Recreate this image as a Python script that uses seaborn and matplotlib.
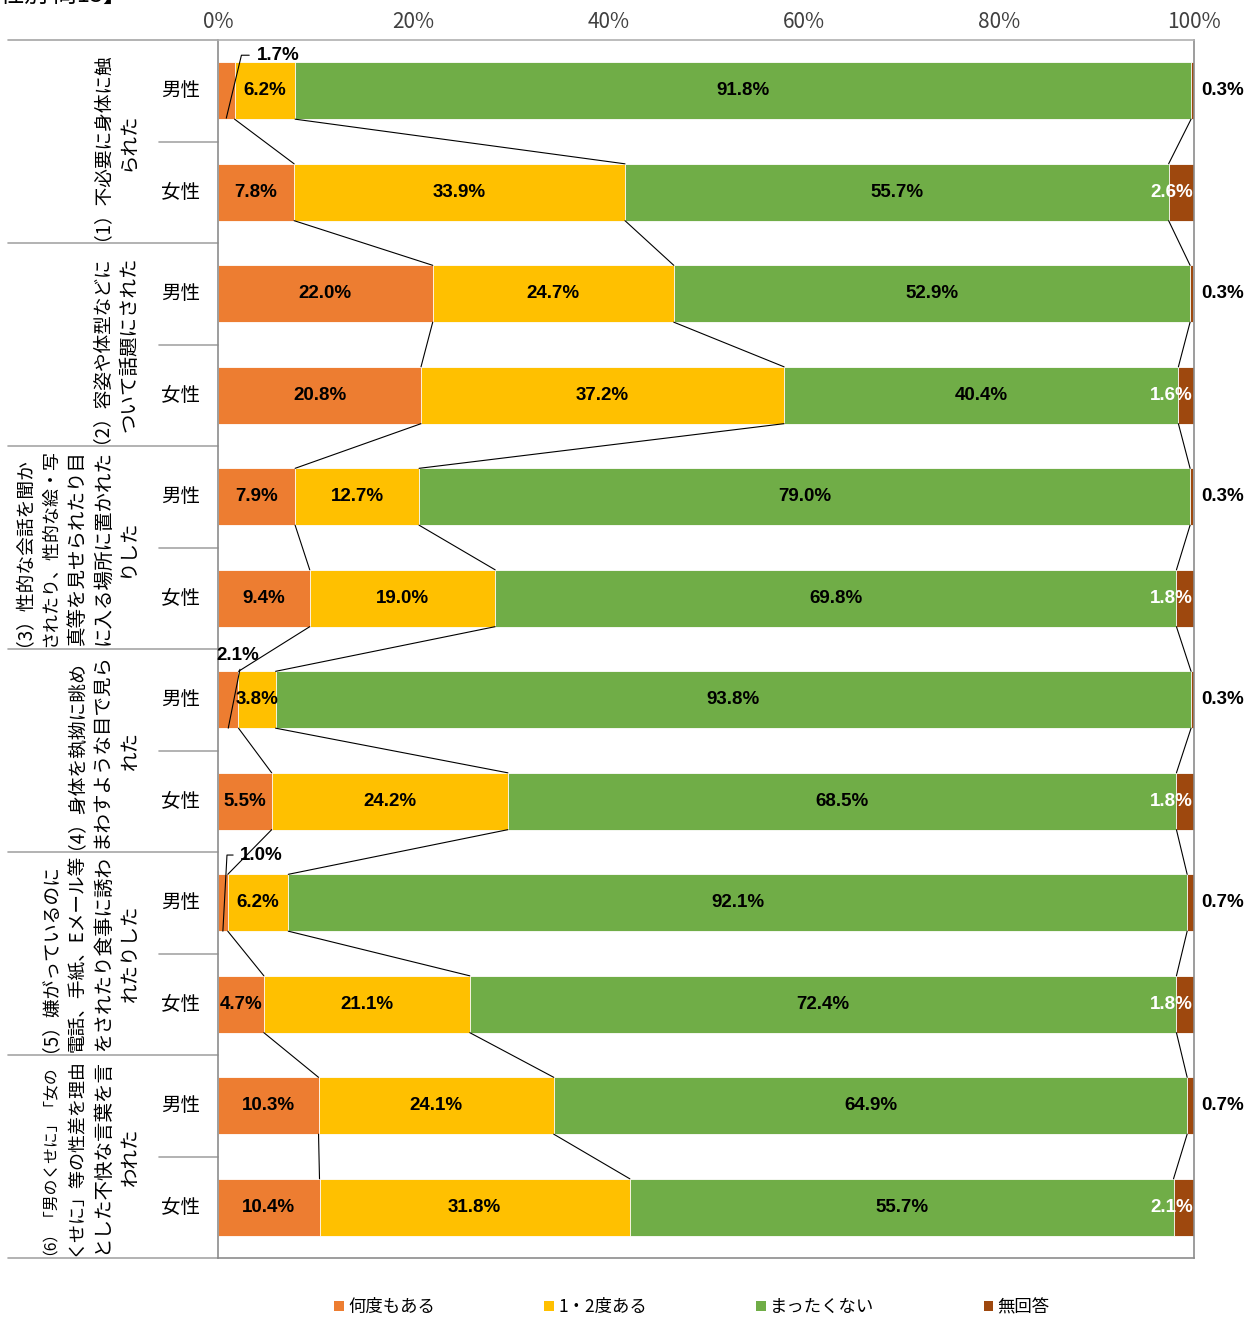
import numpy as np
import pandas as pd
import matplotlib.pyplot as plt
import seaborn as sns
from matplotlib.patches import Patch
from matplotlib import font_manager
from matplotlib.font_manager import FontProperties
from matplotlib.backends.backend_agg import get_hinting_flag

# data (percent)
groups = [
    ['（1）不必要に身体に触', 'られた'],
    ['（2）容姿や体型などに', 'ついて話題にされた'],
    ['（3）性的な会話を聞か', 'されたり、性的な絵・写', '真等を見せられたり目',
     'に入る場所に置かれた', 'りした'],
    ['（4）身体を執拗に眺め', 'まわすような目で見ら', 'れた'],
    ['（5）嫌がっているのに', '電話、手紙、Eメール等', 'をされたり食事に誘わ', 'れたりした'],
    ['（6）「男のくせに」「女の', 'くせに」等の性差を理由', 'とした不快な言葉を言', 'われた'],
]
genders = ['男性', '女性']
series = ['何度もある', '1・2度ある', 'まったくない', '無回答']
colors = ['#ED7D31', '#FFC000', '#70AD47', '#9E480E']

often = [1.7, 7.8, 22.0, 20.8, 7.9, 9.4, 2.1, 5.5, 1.0, 4.7, 10.3, 10.4]
once_twice = [6.2, 33.9, 24.7, 37.2, 12.7, 19.0, 3.8, 24.2, 6.2, 21.1, 24.1, 31.8]
never = [91.8, 55.7, 52.9, 40.4, 79.0, 69.8, 93.8, 68.5, 92.1, 72.4, 64.9, 55.7]
no_answer = [0.3, 2.6, 0.3, 1.6, 0.3, 1.8, 0.3, 1.8, 0.7, 1.8, 0.7, 2.1]

vals = np.array([often, once_twice, never, no_answer]).T
cum = vals.cumsum(axis=1)

rows = [f'{g}-{s}' for g in range(len(groups)) for s in genders]
df = pd.DataFrame({'row': rows})
for k in range(4):
    df[f'cum{k}'] = cum[:, k]

sns.set_style('white')
plt.rcParams['font.family'] = ['Noto Sans CJK JP', 'DejaVu Sans']
plt.rcParams['text.color'] = 'black'
plt.rcParams['xtick.color'] = '#404040'

installed = {f.name for f in font_manager.fontManager.ttflist}
if 'Liberation Sans Narrow' in installed:
    num_family, num_size = ['Liberation Sans Narrow'], 15
else:
    num_family, num_size = ['Liberation Sans'], 13.5

fig = plt.figure(figsize=(12.55, 13.19), dpi=100)
ax = fig.add_axes([218 / 1255, 1 - 1258 / 1319, 976 / 1255, 1218 / 1319])

H = 0.56
# stacked bars: draw cumulative totals from the back to the front
for k in reversed(range(4)):
    sns.barplot(data=df, x=f'cum{k}', y='row', color=colors[k], orient='h',
                width=H, saturation=1, errorbar=None, edgecolor='white',
                linewidth=0.6, ax=ax)

ax.set_xlim(0, 100)
ax.set_ylim(len(rows) - 0.5, -0.5)
ax.set_xlabel('')
ax.set_ylabel('')
ax.set_yticks([])
ax.xaxis.tick_top()
ax.set_xticks(range(0, 101, 20))
ax.set_xticklabels([f'{t}%' for t in range(0, 101, 20)], fontsize=15)
ax.tick_params(axis='x', length=0, pad=5)
for side, sp in ax.spines.items():
    sp.set_color('#8c8c8c')
    sp.set_linewidth(1.2)
ax.spines['top'].set_color('#b0b0b0')

# series lines between neighbouring bars
for i in range(len(rows) - 1):
    for k in range(3):
        ax.plot([cum[i, k], cum[i + 1, k]], [i + H / 2, i + 1 - H / 2],
                color='black', lw=0.8, zorder=3)

# value labels
lab_kw = dict(family=num_family, fontweight='bold', fontsize=num_size,
              va='center', zorder=5)
leaders = {
    0: dict(xy=(4.0, -0.35), ha='left', path=[(3.2, -0.35), (2.4, -0.35), (0.85, 0.27)]),
    6: dict(xy=(2.05, -0.44), ha='center', path=[(2.25, -0.30), (1.05, 0.28)]),
    8: dict(xy=(2.25, -0.47), ha='left', path=[(1.55, -0.47), (0.92, -0.47), (0.5, 0.28)]),
}
for i in range(len(rows)):
    for k in range(4):
        v = vals[i, k]
        left = cum[i, k] - v
        txt = f'{v:.1f}%'
        if k == 0 and i in leaders:
            ld = leaders[i]
            ax.text(ld['xy'][0], i + ld['xy'][1], txt, ha=ld['ha'], color='black', **lab_kw)
            px, py = zip(*ld['path'])
            ax.plot(px, [i + p for p in py], color='black', lw=0.8, zorder=4, clip_on=False)
        elif k == 3:
            if v < 1:
                ax.text(100.7, i, txt, ha='left', color='black', clip_on=False, **lab_kw)
            else:
                ax.text(99.9, i, txt, ha='right', color='white', **lab_kw)
        else:
            ax.text(left + v / 2, i, txt, ha='center', color='black', **lab_kw)

# left hand category table
def px_to_ax(px):
    return (px - 218) / 976

renderer = fig.canvas.get_renderer()

def ink_offset(s, size):
    # Agg shifts turned text sideways by the first glyph's side bearing; measure it
    font = renderer._prepare_font(FontProperties(family=['Noto Sans CJK JP'], size=size))
    font.set_text(s, 0, flags=get_hinting_flag())
    font.draw_glyphs_to_bitmap()
    return font.get_bitmap_offset()[0] / 64

trans = ax.get_yaxis_transform()
for g in range(len(groups) + 1):
    ax.plot([px_to_ax(8), 0], [2 * g - 0.5] * 2, transform=trans, color='#a6a6a6',
            lw=1.2, clip_on=False)
for g, lines in enumerate(groups):
    ax.plot([px_to_ax(159), 0], [2 * g + 0.5] * 2, transform=trans, color='#a6a6a6',
            lw=1.2, clip_on=False)
    n = len(lines)
    for j, line in enumerate(lines):
        cx = 131 - (n - 1 - j) * 26
        t = ax.text(px_to_ax(cx), 2 * g + 0.5, line, transform=trans,
                    rotation=90, ha='center', va='center', fontsize=14)
        size = 14
        ext = t.get_window_extent(renderer)
        if ext.height > 198:
            size = 14 * 198 / ext.height
            t.set_fontsize(size)
        t.set_x(px_to_ax(cx - ink_offset(line, size)))
    for s, gen in enumerate(genders):
        ax.text(px_to_ax(181), 2 * g + s, gen, transform=trans, ha='center',
                va='center', fontsize=14)

# legend
handles = [Patch(facecolor=c, edgecolor='none') for c in colors]
fig.legend(handles, series, loc='center', bbox_to_anchor=(692 / 1255, 1 - 1307 / 1319),
           ncol=4, frameon=False, fontsize=12.5, handlelength=0.55, handleheight=0.55,
           handletextpad=0.25, columnspacing=6.3)

# title, cut off at the top edge as in the source image
fig.text(127 / 1255, 1 + 5 / 1319, '【性別 問13】', ha='right', va='center', fontsize=17)

fig.savefig('out.png', dpi=100)
